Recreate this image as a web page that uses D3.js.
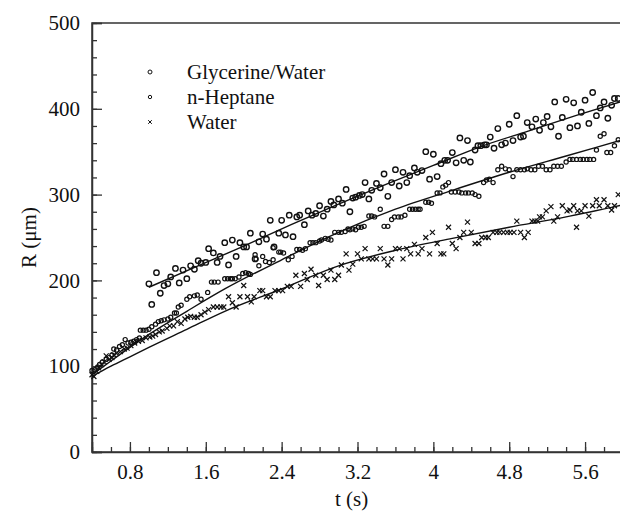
<!DOCTYPE html>
<html>
<head>
<meta charset="utf-8">
<script src="https://cdn.jsdelivr.net/npm/d3@7"></script>
<style>
  body { margin: 0; background: #fff; }
  svg { display: block; }
</style>
</head>
<body>
<div id="chart"></div>
<script>
// series names (legend order)
const seriesNames = ['Glycerine/Water', 'n-Heptane', 'Water'];

// Glycerine/Water measurements, t (s) and R (um)
const tGly = [1.00,1.03,1.08,1.12,1.16,1.20,1.23,1.28,1.32,1.36,1.40,1.44,1.48,1.52,1.55,1.60,1.63,1.68,1.72,1.75,1.80,1.84,1.88,1.92,1.96,2.00,2.03,2.07,2.12,2.16,2.20,2.24,2.28,2.32,2.37,2.40,2.44,2.48,2.52,2.56,2.59,2.64,2.68,2.72,2.76,2.80,2.84,2.88,2.92,2.95,3.00,3.04,3.08,3.12,3.15,3.18,3.22,3.25,3.28,3.32,3.35,3.40,3.44,3.48,3.52,3.56,3.60,3.64,3.68,3.72,3.75,3.80,3.83,3.88,3.92,3.96,4.00,4.04,4.08,4.12,4.15,4.20,4.24,4.28,4.32,4.36,4.39,4.44,4.47,4.50,4.54,4.56,4.60,4.64,4.68,4.72,4.76,4.80,4.84,4.88,4.92,4.95,4.99,5.04,5.08,5.12,5.16,5.20,5.24,5.28,5.32,5.36,5.40,5.44,5.48,5.52,5.56,5.60,5.64,5.68,5.72,5.76,5.80,5.84,5.88,5.91,5.95];
const rGly = [196,172,209,185,194,196,204,214,197,212,202,217,213,223,220,221,237,232,221,228,244,218,247,228,244,239,239,255,225,245,254,248,270,239,255,270,253,276,251,274,276,265,281,276,278,287,275,283,292,288,295,290,306,280,296,297,299,300,314,295,305,313,308,324,298,314,329,310,326,314,322,331,326,328,350,318,347,321,336,340,340,349,337,366,340,363,338,352,357,357,358,358,367,354,377,358,360,382,363,392,367,368,384,379,388,375,384,391,379,408,368,390,411,378,407,380,396,410,383,419,392,401,408,389,404,412,412];

// n-Heptane measurements
const tHep = [0.40,0.43,0.46,0.48,0.51,0.55,0.58,0.61,0.63,0.66,0.69,0.72,0.75,0.78,0.81,0.84,0.87,0.90,0.91,0.94,0.97,1.00,1.03,1.07,1.10,1.13,1.16,1.20,1.23,1.27,1.29,1.31,1.34,1.40,1.43,1.48,1.51,1.55,1.62,1.66,1.69,1.73,1.80,1.83,1.86,1.88,1.91,1.95,1.99,2.02,2.05,2.07,2.12,2.13,2.16,2.20,2.23,2.27,2.31,2.31,2.37,2.39,2.42,2.47,2.51,2.56,2.59,2.62,2.65,2.70,2.73,2.76,2.80,2.82,2.86,2.89,2.92,2.96,3.00,3.03,3.07,3.10,3.12,3.15,3.18,3.21,3.24,3.27,3.32,3.35,3.38,3.44,3.48,3.52,3.56,3.59,3.63,3.66,3.70,3.75,3.78,3.81,3.84,3.86,3.92,3.95,3.98,4.04,4.07,4.10,4.13,4.16,4.19,4.23,4.27,4.30,4.34,4.37,4.41,4.44,4.48,4.53,4.56,4.59,4.63,4.68,4.72,4.76,4.80,4.84,4.88,4.92,4.96,4.99,5.03,5.07,5.11,5.15,5.19,5.23,5.27,5.31,5.35,5.40,5.44,5.47,5.51,5.55,5.58,5.62,5.65,5.69,5.72,5.76,5.80,5.83,5.87,5.91,5.95];
const rHep = [95,96,99,102,105,108,110,113,120,119,123,125,131,127,128,129,131,133,142,142,142,143,146,149,152,153,154,155,157,162,162,169,171,178,181,182,183,178,186,198,198,198,202,202,202,202,202,204,208,209,208,207,230,225,217,228,222,221,224,238,233,233,232,224,228,236,236,235,237,244,244,244,246,247,249,248,247,256,256,256,257,260,259,260,259,262,262,263,275,275,274,283,263,263,271,274,274,274,276,283,283,283,283,283,291,291,290,302,302,309,311,314,303,303,303,302,302,302,302,300,298,314,317,318,314,329,333,330,329,321,329,329,329,330,329,329,333,333,329,329,333,333,333,338,341,341,341,341,341,341,341,341,352,368,371,349,349,357,364];

// Water measurements
const tWat = [0.40,0.42,0.45,0.47,0.50,0.53,0.55,0.58,0.61,0.63,0.66,0.70,0.74,0.77,0.81,0.85,0.89,0.93,0.97,1.01,1.04,1.07,1.11,1.14,1.19,1.22,1.26,1.30,1.34,1.38,1.41,1.44,1.48,1.51,1.55,1.59,1.63,1.68,1.72,1.76,1.79,1.84,1.88,1.92,1.96,2.00,2.04,2.08,2.11,2.17,2.20,2.24,2.28,2.33,2.37,2.41,2.46,2.50,2.55,2.60,2.64,2.67,2.71,2.76,2.79,2.84,2.88,2.92,2.96,3.00,3.03,3.08,3.11,3.15,3.20,3.24,3.28,3.32,3.36,3.40,3.44,3.48,3.52,3.56,3.60,3.64,3.68,3.72,3.76,3.80,3.84,3.88,3.92,3.96,3.99,4.04,4.08,4.11,4.16,4.20,4.24,4.28,4.32,4.36,4.40,4.44,4.48,4.51,4.55,4.58,4.63,4.67,4.70,4.74,4.78,4.81,4.85,4.88,4.92,4.96,5.00,5.04,5.07,5.10,5.12,5.15,5.19,5.24,5.27,5.31,5.36,5.41,5.44,5.48,5.51,5.52,5.56,5.60,5.64,5.68,5.72,5.75,5.80,5.84,5.88,5.91,5.95];
const rWat = [90,88,94,98,102,105,112,108,110,113,115,117,120,121,124,127,129,130,133,134,135,137,140,141,144,147,147,152,150,155,157,158,157,157,160,163,166,169,169,169,169,181,174,169,181,194,181,175,181,188,188,181,181,188,188,188,193,193,206,193,208,201,213,206,194,206,201,212,201,206,218,231,212,219,231,225,237,225,225,225,237,225,218,225,237,237,225,237,231,242,231,237,250,231,256,243,231,231,262,243,237,250,256,268,256,243,243,250,250,250,256,256,256,256,256,256,256,269,256,250,256,269,269,269,274,274,281,286,269,274,287,281,282,287,262,281,281,287,275,287,294,287,294,287,282,287,300];

// fitted curves
const tFitGly = [1.0,1.5,2.0,2.5,3.0,3.5,4.0,4.5,5.0,5.5,6.0];
const rFitGly = [192,216,240,265,289,312,334,356,374,392,409];
const tFit = [0.4,0.6,0.8,1.0,1.4,1.8,2.4,3.0,3.6,4.2,4.8,5.4,6.0];
const rFitHep = [90,106,122,137,164,190,224,256,283,305,326,345,364];
const rFitWat = [88,100,111,122,143,164,190,217,235,249,262,274,288];

// axis ticks
const xTicks = [0.8,1.6,2.4,3.2,4,4.8,5.6];
const yTicks = [0,100,200,300,400,500];

const width = 620, height = 514;
const margin = { top: 23, right: -3, bottom: 62, left: 92 };
const serif = '"Liberation Serif", "Times New Roman", Tinos, "DejaVu Serif", serif';
const fontSize = 21;

const svg = d3.select('#chart').append('svg')
  .attr('width', width)
  .attr('height', height)
  .style('font-family', serif);

const x = d3.scaleLinear().domain([0.4, 6.0]).range([margin.left, width - margin.right]);
const y = d3.scaleLinear().domain([0, 500]).range([height - margin.bottom, margin.top]);

// frame (top/right)
svg.append('rect')
  .attr('x', x(0.4)).attr('y', y(500))
  .attr('width', x(6.0) - x(0.4)).attr('height', y(0) - y(500))
  .attr('fill', 'none').attr('stroke', '#333').attr('stroke-width', 1.5);

// minor ticks
const xMinor = d3.range(0.4, 6.01, 0.2).map(v => +v.toFixed(2));
const yMinor = d3.range(0, 501, 20);
svg.append('g')
  .attr('transform', 'translate(0,' + y(0) + ')')
  .call(d3.axisBottom(x).tickValues(xMinor).tickSize(-5).tickFormat(''))
  .call(g => g.select('.domain').remove())
  .call(g => g.selectAll('line').attr('stroke', '#333').attr('stroke-width', 1.3));
svg.append('g')
  .attr('transform', 'translate(' + x(0.4) + ',0)')
  .call(d3.axisLeft(y).tickValues(yMinor).tickSize(-5).tickFormat(''))
  .call(g => g.select('.domain').remove())
  .call(g => g.selectAll('line').attr('stroke', '#333').attr('stroke-width', 1.3));

// major axes
const xAxis = svg.append('g')
  .attr('transform', 'translate(0,' + y(0) + ')')
  .call(d3.axisBottom(x).tickValues(xTicks).tickSize(-10).tickPadding(12).tickFormat(d3.format('')))
  .attr('font-family', serif)
  .attr('font-size', fontSize)
  .call(g => g.select('.domain').attr('stroke', '#333').attr('stroke-width', 1.5))
  .call(g => g.selectAll('line').attr('stroke', '#333').attr('stroke-width', 1.3));
xAxis.selectAll('text').attr('fill', '#111');

const yAxis = svg.append('g')
  .attr('transform', 'translate(' + x(0.4) + ',0)')
  .call(d3.axisLeft(y).tickValues(yTicks).tickSize(-10).tickPadding(12))
  .attr('font-family', serif)
  .attr('font-size', fontSize)
  .call(g => g.select('.domain').attr('stroke', '#333').attr('stroke-width', 1.5))
  .call(g => g.selectAll('line').attr('stroke', '#333').attr('stroke-width', 1.3));
yAxis.selectAll('text').attr('fill', '#111');

// axis titles
svg.append('text')
  .attr('x', (x(0.4) + x(6.0)) / 2 - 6)
  .attr('y', 499)
  .attr('dy', '0.35em')
  .attr('text-anchor', 'middle')
  .attr('font-family', serif)
  .attr('font-size', fontSize)
  .attr('fill', '#111')
  .text('t (s)');
svg.append('text')
  .attr('transform', 'translate(29,' + ((y(0) + y(500)) / 2) + ') rotate(-90)')
  .attr('dy', '0.35em')
  .attr('text-anchor', 'middle')
  .attr('font-family', serif)
  .attr('font-size', fontSize)
  .attr('fill', '#111')
  .text('R (\u03bcm)');

// fitted curves
const line = d3.line().x(d => x(d[0])).y(d => y(d[1])).curve(d3.curveMonotoneX);
const fits = [
  d3.zip(tFitGly, rFitGly),
  d3.zip(tFit, rFitHep),
  d3.zip(tFit, rFitWat)
];
svg.append('g').selectAll('path')
  .data(fits)
  .join('path')
    .attr('d', line)
    .attr('fill', 'none')
    .attr('stroke', '#111')
    .attr('stroke-width', 1.4);

// markers
const xMark = s => 'M' + (-s) + ',' + (-s) + 'L' + s + ',' + s + 'M' + (-s) + ',' + s + 'L' + s + ',' + (-s);

svg.append('g').selectAll('circle')
  .data(d3.zip(tGly, rGly))
  .join('circle')
    .attr('cx', d => x(d[0])).attr('cy', d => y(d[1]))
    .attr('r', 2.7)
    .attr('fill', 'none').attr('stroke', '#111').attr('stroke-width', 1.4);

svg.append('g').selectAll('circle')
  .data(d3.zip(tHep, rHep))
  .join('circle')
    .attr('cx', d => x(d[0])).attr('cy', d => y(d[1]))
    .attr('r', 2.1)
    .attr('fill', 'none').attr('stroke', '#111').attr('stroke-width', 1.2);

svg.append('g').selectAll('path')
  .data(d3.zip(tWat, rWat))
  .join('path')
    .attr('transform', d => 'translate(' + x(d[0]) + ',' + y(d[1]) + ')')
    .attr('d', xMark(2.5))
    .attr('fill', 'none').attr('stroke', '#111').attr('stroke-width', 1.2);

// legend
const legend = svg.append('g').selectAll('g')
  .data(seriesNames)
  .join('g')
    .attr('transform', (d, i) => 'translate(150,' + (72 + i * 25) + ')');
legend.each(function(d, i) {
  const g = d3.select(this);
  if (i < 2) {
    g.append('circle').attr('r', i === 0 ? 2 : 1.7)
      .attr('fill', 'none').attr('stroke', '#111').attr('stroke-width', 1);
  } else {
    g.append('path').attr('d', xMark(1.8)).attr('stroke', '#111').attr('stroke-width', 1);
  }
  g.append('text')
    .attr('x', 37)
    .attr('dy', '0.35em')
    .attr('font-family', serif)
    .attr('font-size', fontSize)
    .attr('fill', '#111')
    .text(d);
});
</script>
</body>
</html>
